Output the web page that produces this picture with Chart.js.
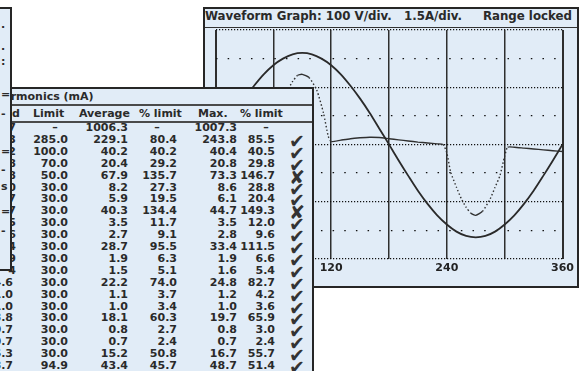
<!DOCTYPE html>
<html>
<head>
<meta charset="utf-8">
<script src="https://cdn.jsdelivr.net/npm/chart.js@4.4.0/dist/chart.umd.min.js"></script>
<style>
html, body { margin: 0; padding: 0; background: #fff; }
#stage { position: relative; width: 584px; height: 371px; overflow: hidden; background: #fff;
  font-family: "DejaVu Sans", sans-serif; font-weight: bold; color: #2a2a2a; }
.panel { position: absolute; box-sizing: border-box; background: #e1ecf7; border: 2px solid #262626; }
#wave { left: 203px; top: 7px; width: 376px; height: 281px; z-index: 1; }
#waveBar { position: absolute; left: 205px; top: 27px; width: 372px; height: 1px; background: #333; z-index: 2; }
#chartBox { position: absolute; left: 205px; top: 28px; z-index: 1; }
#harm { left: -40px; top: 87px; width: 354px; height: 300px; z-index: 2; }
#strip { left: -20px; top: 7px; width: 32px; height: 264px; z-index: 4; border-left: none; }
.t { position: absolute; white-space: nowrap; font-size: 11px; line-height: 14px; z-index: 3; }
.r { text-align: right; width: 80px; }
.hl { position: absolute; left: 0; width: 312px; height: 2px; background: #4a4a4a; z-index: 3; }
.mk { position: absolute; width: 24px; text-align: center; font-size: 19px; line-height: 14px; font-weight: normal; color: #333; z-index: 3; }
</style>
</head>
<body>
<div id="stage">
  <div class="panel" id="wave"></div>
  <div id="waveBar"></div>
  <div class="t" style="left:205px;top:9px;font-size:11.8px;">Waveform Graph: 100 V/div.</div>
  <div class="t" style="left:404px;top:9px;font-size:11.8px;">1.5A/div.</div>
  <div class="t" style="left:472px;top:9px;width:100px;text-align:right;font-size:11.8px;">Range locked</div>
  <canvas id="chartBox" width="372" height="258"></canvas>

  <div class="panel" id="harm"></div>
  <div class="hl" style="top:104px;"></div>
  <div class="hl" style="top:121px;"></div>
  <div class="t" style="left:-6px;top:90px;">Harmonics (mA)</div>
  <div id="rows"></div>

  <div class="panel" id="strip"></div>
  <div id="stripText"></div>
</div>
<script>
// waveform, in divisions (100 V/div, 1.5 A/div)
const voltAngles = [0, 10, 20, 30, 40, 50, 60, 70, 80, 90, 100, 110, 120, 130, 140, 150, 160, 170, 180,
  190, 200, 210, 220, 230, 240, 250, 260, 270, 280, 290, 300, 310, 320, 330, 340, 350, 360];
const voltValues = [0, 0.55, 1.1, 1.6, 2.05, 2.45, 2.77, 3.0, 3.15, 3.2, 3.15, 3.0, 2.77, 2.45, 2.05, 1.6, 1.1, 0.55, 0,
  -0.56, -1.1, -1.62, -2.08, -2.48, -2.8, -3.05, -3.2, -3.25, -3.2, -3.05, -2.8, -2.48, -2.08, -1.62, -1.1, -0.56, 0];

const currAngles = [0, 10, 20, 30, 40, 50, 56, 60, 64, 70, 75, 80, 85, 90, 97, 105, 112, 117, 120,
  130, 140, 150, 160, 170, 180, 190, 200, 210, 220, 230, 236, 240, 244, 250, 255, 260, 265, 270,
  277, 285, 290, 295, 300, 303, 310, 320, 330, 340, 350, 360];
const currValues = [-0.25, -0.24, -0.2, -0.14, -0.08, -0.03, 0, 0.3, 0.97, 1.5, 1.9, 2.2, 2.41, 2.45, 2.34, 1.9, 1.1, 0.28, 0.1,
  0.15, 0.2, 0.23, 0.25, 0.24, 0.2, 0.16, 0.12, 0.08, 0.05, 0.02, 0, -0.3, -0.97, -1.5, -1.9, -2.2, -2.41, -2.48,
  -2.34, -1.9, -1.5, -1.1, -0.41, -0.1, -0.1, -0.13, -0.16, -0.19, -0.22, -0.25];

const xTickLabels = [0, 120, 240, 360];

// harmonics table
const firstCol = ["7", "3", "2", "8", "8", "0", "7", "7", "5", "6", "4", "9", "4",
  "4.6", "1.0", "1.0", "8.8", "0.7", "0.7", "6.3", "8.7"];
const limits = ["–", "285.0", "100.0", "70.0", "50.0", "30.0", "30.0", "30.0", "30.0", "30.0", "30.0",
  "30.0", "30.0", "30.0", "30.0", "30.0", "30.0", "30.0", "30.0", "30.0", "94.9"];
const averages = ["1006.3", "229.1", "40.2", "20.4", "67.9", "8.2", "5.9", "40.3", "3.5", "2.7", "28.7",
  "1.9", "1.5", "22.2", "1.1", "1.0", "18.1", "0.8", "0.7", "15.2", "43.4"];
const avgPct = ["–", "80.4", "40.2", "29.2", "135.7", "27.3", "19.5", "134.4", "11.7", "9.1", "95.5",
  "6.3", "5.1", "74.0", "3.7", "3.4", "60.3", "2.7", "2.4", "50.8", "45.7"];
const maxes = ["1007.3", "243.8", "40.4", "20.8", "73.3", "8.6", "6.1", "44.7", "3.5", "2.8", "33.4",
  "1.9", "1.6", "24.8", "1.2", "1.0", "19.7", "0.8", "0.7", "16.7", "48.7"];
const maxPct = ["–", "85.5", "40.5", "29.8", "146.7", "28.8", "20.4", "149.3", "12.0", "9.6", "111.5",
  "6.6", "5.4", "82.7", "4.2", "3.6", "65.9", "3.0", "2.4", "55.7", "51.4"];
const passed = [null, true, true, true, false, true, true, false, true, true, true,
  true, true, true, true, true, true, true, true, true, true];

const rows = document.getElementById("rows");
function put(html, cls, left, top, extra) {
  const d = document.createElement("div");
  d.className = cls;
  d.style.left = left + "px";
  d.style.top = top + "px";
  if (extra) d.style.cssText += extra;
  d.textContent = html;
  rows.appendChild(d);
}
// headers
put("d", "t", 12, 107);
put("Limit", "t", 33, 107);
put("Average", "t", 79, 107);
put("% limit", "t", 139, 107);
put("Max.", "t", 198, 107);
put("% limit", "t", 240, 107);

const cols = [[firstCol, 16], [limits, 68], [averages, 128], [avgPct, 177], [maxes, 237], [maxPct, 275]];
const dashCenters = [0, 55, 0, 157, 0, 266];
for (let i = 0; i < averages.length; i++) {
  const y = 128 + 11.9 * i - 7;
  cols.forEach(function (c, k) {
    const v = c[0][i];
    const right = (k === 0 && i > 12) ? 13 : c[1];
    if (v === "–") put(v, "t", dashCenters[k] - 40, y, "width:80px;text-align:center;");
    else put(v, "t r", right - 80, y);
  });
  if (passed[i] !== null) put(passed[i] ? "✔" : "✘", "mk", 285, y + 1);
}

// left strip fragments
const stripText = document.getElementById("stripText");
[[".", 18], [".", 40], [":", 55], ["=", 88], ["-", 107], ["=", 145], ["-", 163], ["s", 180], ["=", 205], ["-", 224]]
  .forEach(function (m) {
    const d = document.createElement("div");
    d.className = "t";
    d.style.cssText = "left:1px;top:" + m[1] + "px;z-index:5;";
    d.textContent = m[0];
    stripText.appendChild(d);
  });

function steep(c) {
  return Math.abs(c.p1.y - c.p0.y) > 0.6 * Math.abs(c.p1.x - c.p0.x);
}

var config = {
  type: "line",
  data: {
    datasets: [{
      label: "Voltage",
      data: voltAngles.map(function (a, i) { return { x: a, y: voltValues[i] }; }),
      borderColor: "#2a2a2a",
      borderWidth: 1.8,
      pointRadius: 0,
      tension: 0.3
    }, {
      label: "Current",
      data: currAngles.map(function (a, i) { return { x: a, y: currValues[i] }; }),
      borderColor: "#303030",
      borderWidth: 1.4,
      pointRadius: 0,
      tension: 0.2,
      segment: {
        borderDash: function (c) { return steep(c) ? [1.5, 2.2] : undefined; }
      }
    }]
  },
  options: {
    responsive: false,
    animation: false,
    layout: { padding: { left: 10.5, top: 2, right: 12, bottom: 8 } },
    plugins: { legend: { display: false }, tooltip: { enabled: false } },
    scales: {
      x: {
        type: "linear", min: 0, max: 360,
        ticks: {
          stepSize: 60, autoSkip: false, maxRotation: 0, padding: 3, color: "#222",
          font: { family: "DejaVu Sans", weight: "bold", size: 11 },
          callback: function (v) { return xTickLabels.indexOf(v) >= 0 ? String(v) : ""; }
        },
        grid: {
          color: "#2e2e2e", drawTicks: false,
          lineWidth: function (c) { return c.tick && (c.tick.value === 0 || c.tick.value === 360) ? 2 : 1.5; }
        },
        border: { display: false }
      },
      y: {
        type: "linear", min: -4, max: 4,
        ticks: { display: false, stepSize: 1 },
        grid: { color: "#111", lineWidth: 1.2, drawTicks: false },
        border: {
          display: false,
          dash: function (c) { return c.tick && c.tick.value % 2 === 0 ? [1.2, 1.8] : [1.5, 10.16]; }
        }
      }
    }
  }
};
new Chart(document.getElementById("chartBox"), config);
</script>
</body>
</html>
